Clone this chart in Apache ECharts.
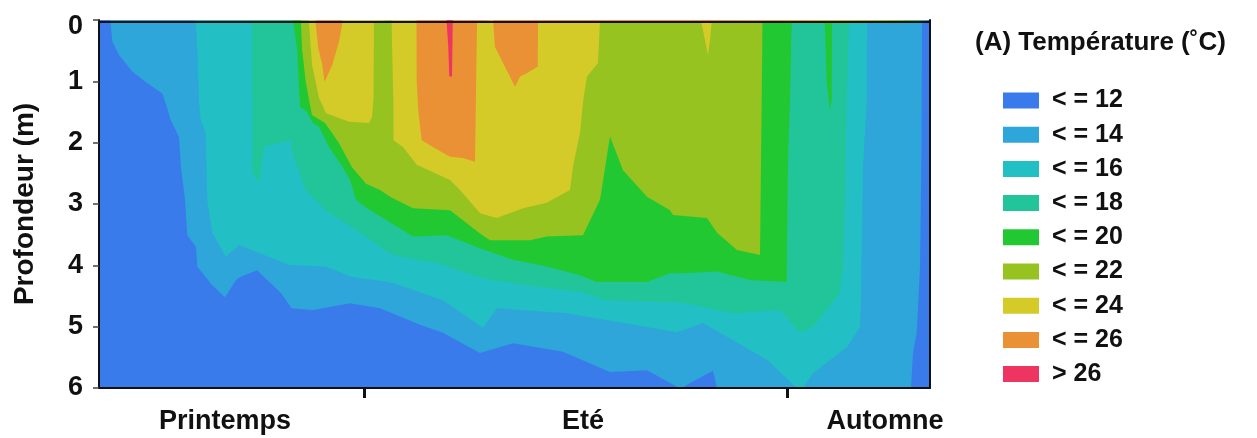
<!DOCTYPE html>
<html>
<head>
<meta charset="utf-8">
<script src="https://cdn.jsdelivr.net/npm/echarts@6/dist/echarts.min.js"></script>
<style>html,body{margin:0;padding:0;background:#fff;}#c{width:1257px;height:438px;}</style>
</head>
<body>
<div id="c"></div>
<script>
// Time axis: relative sampling time (0 = first sampling, 831 = last sampling)
const timeMin = 0, timeMax = 831;
const seasonLabels = ['Printemps', 'Eté', 'Automne'];
const seasonLabelPos = [126, 484, 786];
const seasonBounds = [265, 688];
const depthTicks = [0, 1, 2, 3, 4, 5, 6];

const classNames = ['< = 12', '< = 14', '< = 16', '< = 18', '< = 20', '< = 22', '< = 24', '< = 26', '> 26'];
const classColors = ['#3a7bec', '#2fa6d9', '#22bfc4', '#22c59a', '#22c832', '#96c320', '#d4ca28', '#ea9035', '#ee3460'];

// Depth (m) of each isotherm vs time: [time, depth]; above that depth the water is warmer than the threshold
const iso12 = [[0,0],[11.5,0],[11.7,0.05],[13.3,0.35],[20,0.57],[33.3,0.84],[46.7,1.01],[63.3,1.2],[66.5,1.35],[71.7,1.63],[78,1.84],[80,1.91],[82,2.4],[86,2.93],[88.3,3.51],[97,3.7],[98.3,4.02],[113,4.32],[126,4.52],[137,4.24],[141,4.19],[158,4.08],[182,4.45],[192.7,4.7],[214,4.73],[251,4.62],[281,4.7],[321,4.97],[344,5.1],[381,5.43],[414,5.27],[464,5.41],[511,5.74],[548,5.71],[578,5.98],[580,6],[583,6],[591,5.92],[606,5.79],[614,5.72],[618,6],[812,6],[814,5.43],[817.7,5.1],[821,4.02],[822.5,2.12],[822.7,1.3],[823,0.03],[823.5,0],[831,0]];
const iso14 = [[0,0],[96.5,0],[96.7,0.05],[98.3,0.46],[100,1.3],[101.7,1.63],[106.7,1.84],[108.3,2.93],[113.3,3.47],[126.7,3.86],[140,3.67],[160,3.8],[190,3.99],[226.7,4.02],[253,4.19],[290,4.27],[301,4.33],[344,4.57],[384,5.02],[398,4.7],[468,4.78],[508,4.89],[578,5.09],[604,4.94],[634,5.22],[668,5.54],[696,5.97],[698,6],[704,6],[714,5.76],[748,5.33],[761,5.01],[762,4.57],[764,2.4],[767.7,1.3],[768,0.03],[768.5,0],[831,0]];
const iso16 = [[0,0],[153,0],[153.3,2.49],[155,2.49],[160,2.66],[165,2.07],[167,2.04],[191.7,1.96],[193.3,2.17],[206.7,2.77],[226.7,3.1],[253,3.38],[290,3.8],[301,3.86],[338,3.96],[368,4.13],[391,4.24],[448,4.37],[481,4.43],[508,4.57],[584,4.61],[634,4.78],[681,4.73],[701,5.1],[714,5.01],[741,4.45],[744,4.02],[746,2.93],[746.5,2.39],[747.7,1.3],[750,0.03],[750.5,0],[831,0]];
const iso18 = [[0,0],[194,0],[194.5,0.03],[198,0.46],[199,0.77],[201,1.42],[206.7,1.47],[214,1.68],[220,1.74],[230,2.07],[243.3,2.39],[251,2.61],[257,2.93],[268,3.07],[290,3.29],[314,3.53],[347.7,3.51],[381,3.72],[414,3.91],[447.7,4.02],[481,4.16],[497.7,4.27],[547.7,4.27],[571,4.13],[584,4.13],[617.7,4.1],[651,4.24],[687.7,4.27],[689,2.28],[691,1.3],[692.7,0.03],[693,0],[725.7,0],[726,0.03],[727.7,1.01],[731,1.47],[732.7,1.3],[733,0.03],[733.3,0],[831,0]];
const iso20 = [[0,0],[201.5,0],[202,0.05],[203,0.46],[206.5,0.98],[210,1.3],[213,1.55],[226,1.68],[233,1.84],[240,2.01],[253,2.4],[267,2.67],[281,2.77],[291,2.88],[314,3.07],[351,3.1],[381,3.48],[391,3.59],[431,3.59],[447.7,3.53],[484,3.51],[488,3.37],[501,2.93],[511,1.9],[524,2.45],[548,2.88],[571,3.1],[574,3.18],[608,3.23],[618,3.47],[638,3.75],[661,3.83],[662.7,1.3],[663.5,0.03],[664,0],[831,0]];
const iso22 = [[0,0],[209.5,0],[210,0.05],[213,0.73],[220,1.27],[227,1.52],[250,1.66],[270,1.68],[273,1.58],[274.5,1.3],[275,0.03],[275.5,0],[292.5,0],[293,0.03],[294.3,1.3],[294.5,1.96],[304,2.07],[317.7,2.36],[351,2.61],[361,2.77],[381,3.15],[397.7,3.23],[424,3.07],[447.7,2.98],[471,2.77],[474,2.39],[481,1.84],[484.3,1.3],[488,0.92],[499,0.7],[501,0.03],[501.5,0],[602,0],[602.7,0.03],[607,0.41],[609,0.57],[611,0.33],[612.7,0.03],[613,0],[831,0]];
const iso24 = [[0,0],[216.5,0],[216.7,0.05],[219.3,0.46],[223.3,0.73],[225.5,1.01],[233.3,0.73],[240,0.35],[243.3,0.05],[243.5,0],[317.5,0],[317.7,0.03],[317.7,0.98],[319.3,1.47],[322.7,1.96],[334,2.07],[351,2.23],[364,2.25],[376,2.31],[377.7,2.28],[378,0.03],[378.3,0],[394,0],[394.3,0.05],[396,0.44],[404.3,0.71],[411,0.92],[416,1.09],[421,0.92],[427.7,0.87],[438.7,0.76],[439,0.03],[439.3,0],[831,0]];
const iso26 = [[0,0],[347.5,0],[347.7,0.05],[349.3,0.44],[350.3,0.92],[353,0.92],[353.7,0.05],[354,0],[831,0]];

const isotherms = [iso12, iso14, iso16, iso18, iso20, iso22, iso24, iso26];

const FONT = 'Liberation Sans, Arial, sans-serif';
const chart = echarts.init(document.getElementById('c'), null, {renderer: 'canvas'});

const series = [{
  name: classNames[0], type: 'line', data: [], color: classColors[0], showSymbol: false
}];
isotherms.forEach((d, i) => {
  series.push({
    name: classNames[i + 1],
    type: 'line',
    data: d,
    color: classColors[i + 1],
    showSymbol: false,
    symbol: 'none',
    smooth: false,
    lineStyle: {width: 0},
    areaStyle: {color: classColors[i + 1], opacity: 1, origin: 'start'},
    silent: true,
    z: 2 + i
  });
});

const frameLine = {show: true, onZero: false, lineStyle: {color: '#111', width: 2}};

chart.setOption({
  animation: false,
  title: {
    text: '(A) Température (˚C)',
    left: 970, top: 25,
    textStyle: {fontFamily: FONT, fontWeight: 'bold', fontSize: 26, color: '#111'}
  },
  legend: {
    data: classNames,
    orient: 'vertical',
    left: 1003, top: 88,
    padding: 0,
    icon: 'rect',
    itemWidth: 36, itemHeight: 16, itemGap: 9.2,
    selectedMode: false,
    itemStyle: {borderWidth: 0},
    textStyle: {fontFamily: FONT, fontWeight: 'bold', fontSize: 25, color: '#111', padding: [0, 0, 0, 8]}
  },
  grid: {
    left: 99, right: 327, top: 20, bottom: 50,
    containLabel: false, outerBoundsMode: 'none',
    show: true, backgroundColor: classColors[0], borderWidth: 0
  },
  xAxis: [{
    type: 'value', min: timeMin, max: timeMax, position: 'bottom', z: 20,
    splitLine: {show: false},
    axisLine: frameLine,
    axisTick: {show: true, inside: false, customValues: seasonBounds, length: 10, lineStyle: {color: '#111', width: 3}},
    axisLabel: {
      customValues: seasonLabelPos, margin: 20,
      fontFamily: FONT, fontWeight: 'bold', fontSize: 27, color: '#111',
      formatter: v => seasonLabels[seasonLabelPos.indexOf(v)] || ''
    }
  }, {
    type: 'value', min: timeMin, max: timeMax, position: 'top', z: 20, offset: -2,
    splitLine: {show: false}, axisTick: {show: false}, axisLabel: {show: false},
    axisLine: frameLine
  }],
  yAxis: [{
    type: 'value', min: 0, max: 6, interval: 1, inverse: true, z: 20, position: 'left',
    name: 'Profondeur (m)', nameLocation: 'middle', nameRotate: 90, nameGap: 60,
    nameTextStyle: {fontFamily: FONT, fontWeight: 'bold', fontSize: 28, color: '#111'},
    splitLine: {show: false},
    axisLine: frameLine,
    axisTick: {show: true, length: 6, lineStyle: {color: '#444', width: 1.5}},
    axisLabel: {margin: 16, fontFamily: FONT, fontWeight: 'bold', fontSize: 27, color: '#111',
      formatter: v => depthTicks.indexOf(v) < 0 ? '' : (v === 0 ? '{top|0}' : String(v)),
      rich: {top: {fontFamily: FONT, fontWeight: 'bold', fontSize: 27, color: '#111', padding: [14, 0, 0, 0]}}}
  }, {
    type: 'value', min: 0, max: 6, inverse: true, position: 'right', z: 20,
    splitLine: {show: false}, axisTick: {show: false}, axisLabel: {show: false},
    axisLine: frameLine
  }],
  series: series
});
</script>
</body>
</html>
